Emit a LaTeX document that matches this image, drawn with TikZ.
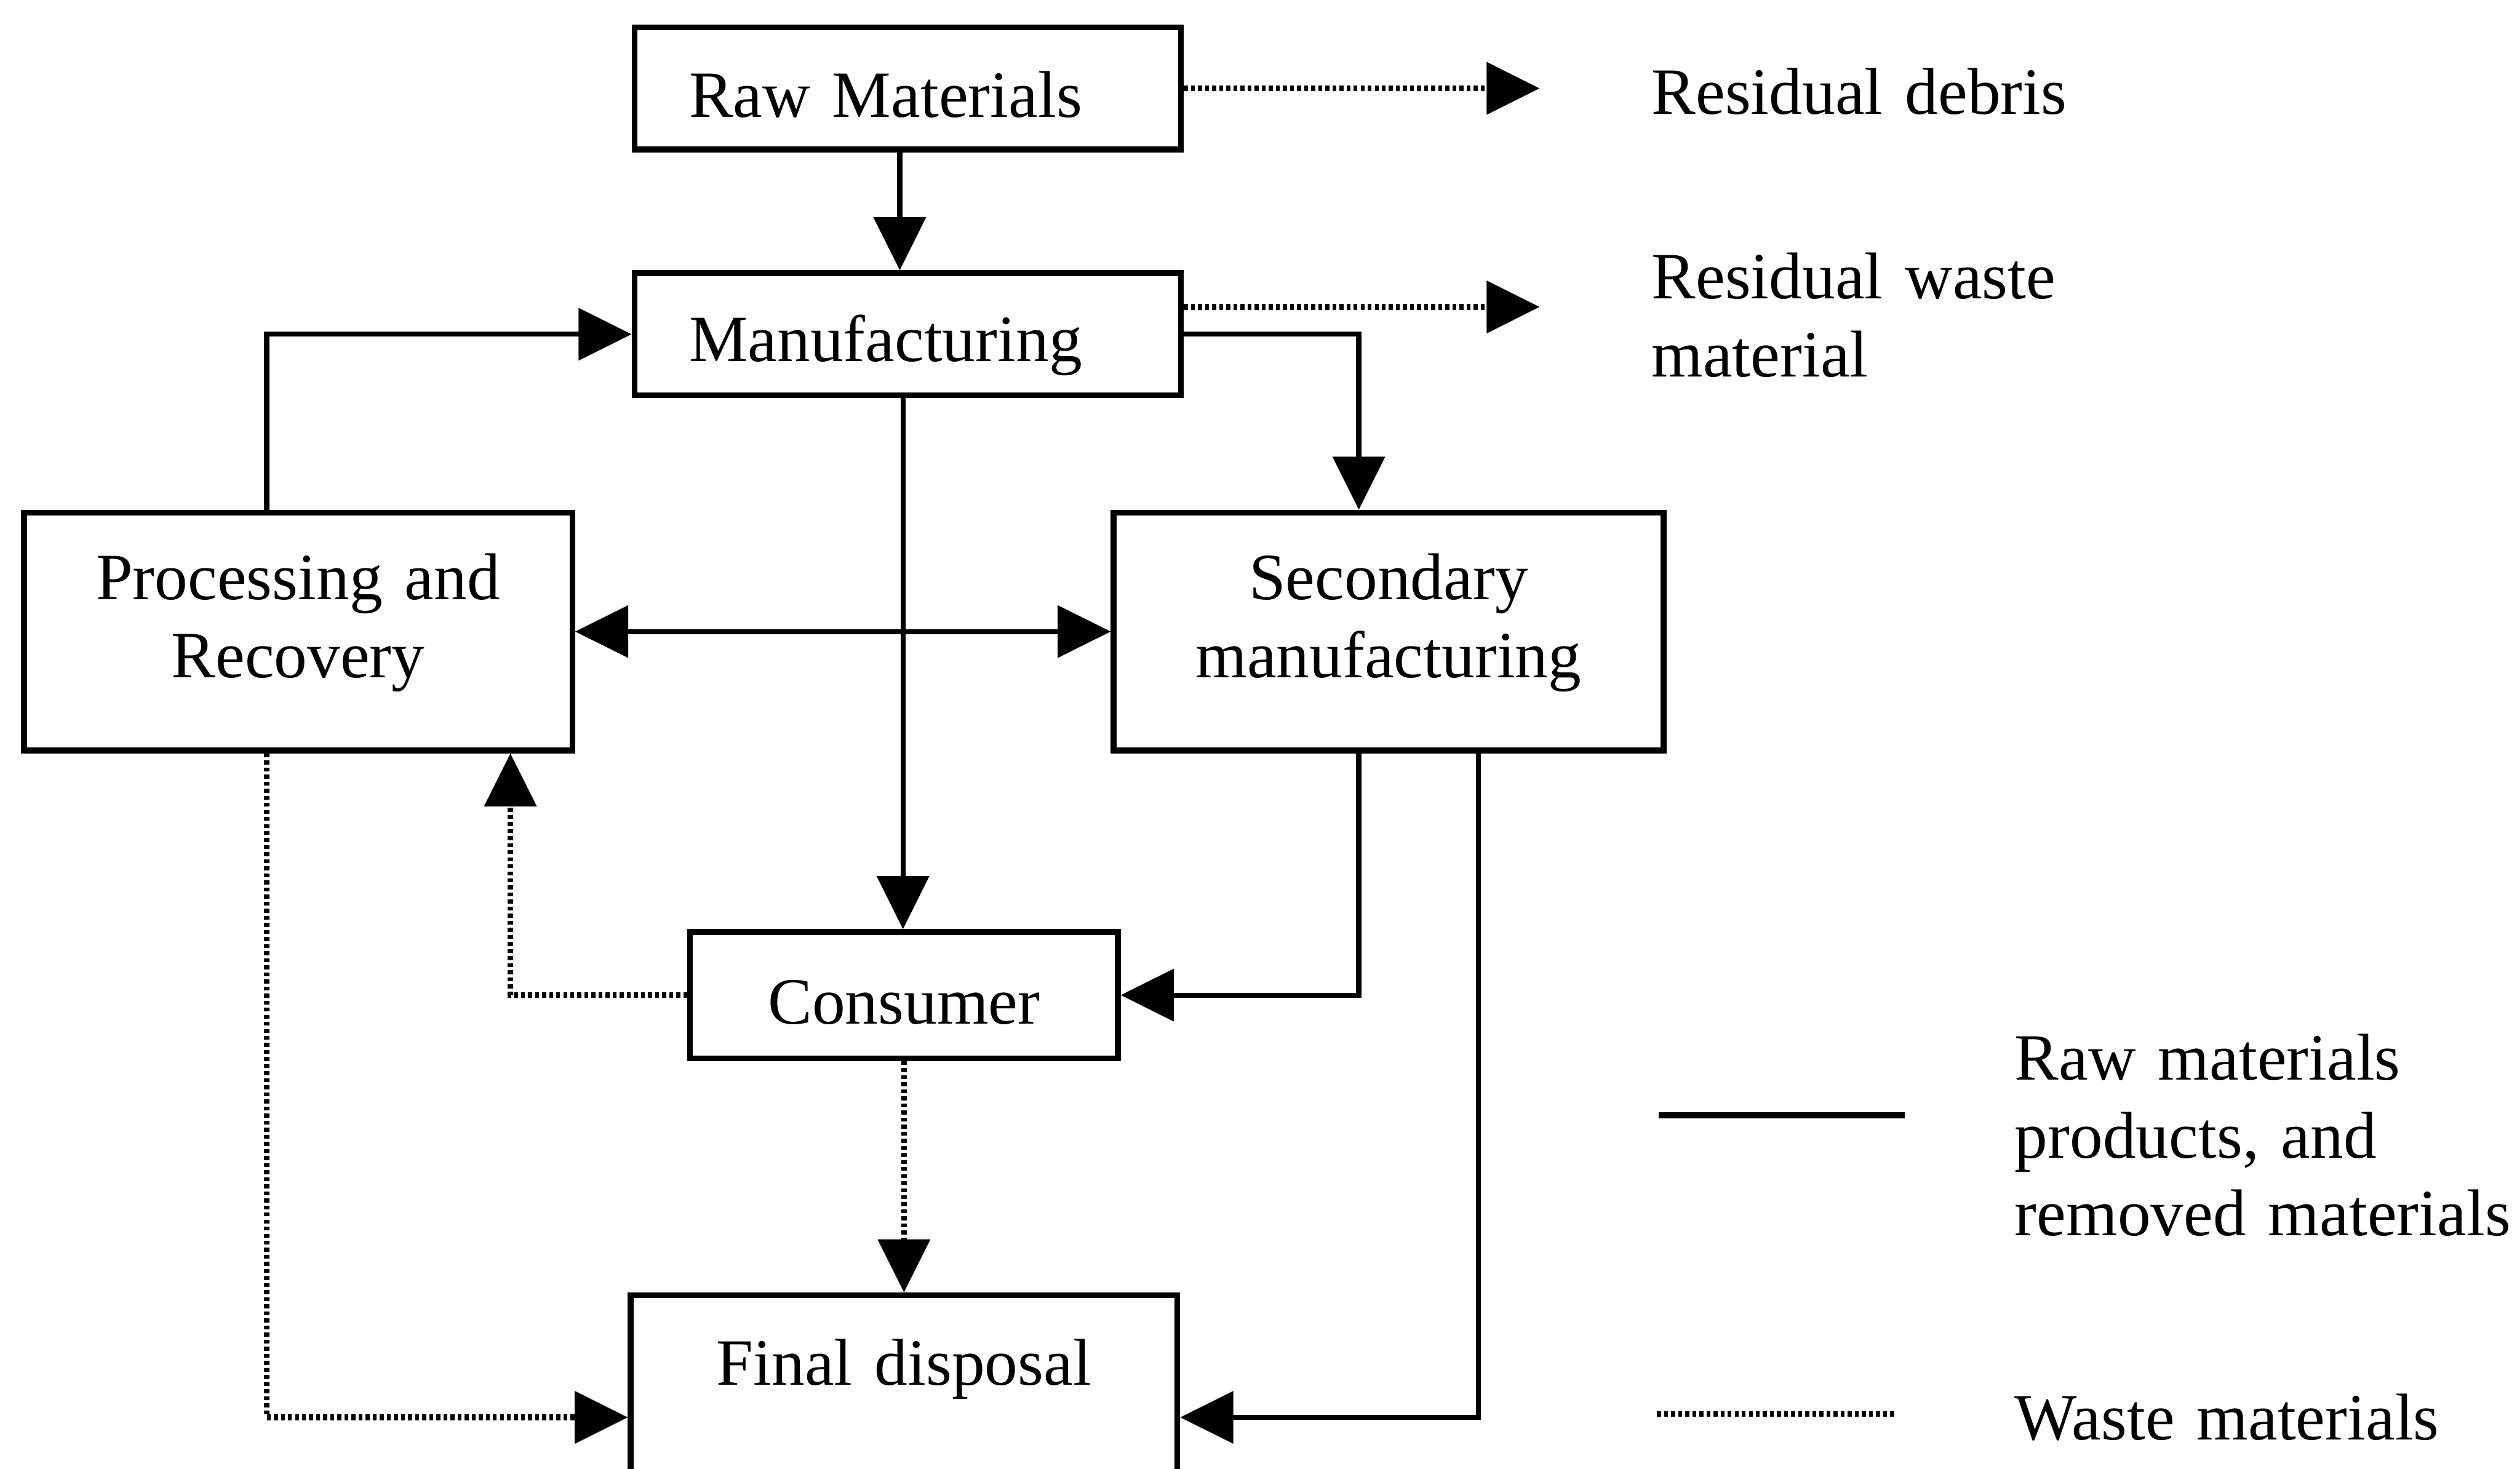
\documentclass[tikz,border=0pt]{standalone}
\usepackage{fontspec}
\setmainfont{Liberation Serif}
\usetikzlibrary{arrows.meta}

\begin{document}
\begin{tikzpicture}[x=0.01cm, y=-0.01cm,
  every node/.style={font=\fontsize{11.7pt}{13.8pt}\selectfont, inner sep=0pt},
  box/.style={draw, line width=1pt},
  tip/.style={-{Triangle[length=0.33cm, width=0.32cm]}},
  flow/.style={line width=0.9pt, tip},
  waste/.style={line width=1pt, dash pattern=on 0.7pt off 0.55pt, tip},
  note/.style={anchor=base west, text width=3.3cm, align=left}
]
\useasboundingbox (0,0) rectangle (1568,914);
\fill[white] (0,0) rectangle (1568,914);
\clip (0,0) rectangle (1568,914);

% process boxes
\node[box, text width=2.72cm, inner xsep=0.34cm, align=left,
      text height=0.56cm, text depth=0.2cm, anchor=base west] (rm) at (393,73) {Raw Materials};
\node[box, text width=2.72cm, inner xsep=0.34cm, align=left,
      text height=0.55cm, text depth=0.21cm, anchor=base west] (mf) at (393,225) {Manufacturing};
\node[box, text width=3.41cm, align=center,
      text height=0.54cm, text depth=0.94cm, anchor=base] (pr) at (185.5,373) {Processing and\\Recovery};
\node[box, text width=3.42cm, align=center,
      text height=0.54cm, text depth=0.94cm, anchor=base] (sm) at (864,373) {Secondary\\manufacturing};
\node[box, text width=2.66cm, align=center,
      text height=0.57cm, text depth=0.215cm, anchor=base] (cs) at (562.5,637) {Consumer};
\node[box, text width=3.4cm, align=center,
      text height=0.56cm, text depth=0.96cm, anchor=base] (fd) at (562.5,862) {Final disposal};

% residual outputs
\coordinate (rdEnd) at (958,55);
\coordinate (rwEnd) at (958,191);
\node[note] (rd) at (1027,71) {Residual debris};
\node[note] (rw) at (1027,186) {Residual waste\\material};

% material flows
\draw[flow] ([xshift=-0.05cm]rm.south) -- ([xshift=-0.05cm]mf.north);
\draw[flow] (mf.east) -| ([xshift=-0.185cm]sm.north);
\draw[flow] ([xshift=-0.195cm]pr.north) |- (mf.west);
\draw[flow] ([xshift=-0.03cm]mf.south) -- ([xshift=-0.03cm]mf.south |- cs.north);
\draw[line width=0.9pt, {Triangle[length=0.33cm, width=0.32cm]}-{Triangle[length=0.33cm, width=0.32cm]}] (pr) -- (sm);
\draw[flow] ([xshift=-0.185cm]sm.south) |- (cs.east);
\draw[flow] ([xshift=0.56cm]sm.south) |- (fd.east);

% waste flows
\draw[waste] (rm.east) -- (rm.east -| rdEnd);
\draw[waste] (mf.east |- rwEnd) -- (rwEnd);
\draw[waste] (cs.west) -| ([xshift=1.32cm]pr.south);
\draw[waste] ([xshift=-0.195cm]pr.south) |- (fd.west);
\draw[waste] (cs) -- (fd);

% legend
\coordinate (ls1) at (1032,694);
\coordinate (le1) at (1185,694);
\coordinate (ls2) at (1031,880);
\coordinate (le2) at (1180,880);
\draw[line width=1.1pt] (ls1) -- (le1);
\draw[line width=1pt, dash pattern=on 0.7pt off 0.55pt] (ls2) -- (le2);
\node[note] (lg1) at (1253,672) {Raw materials\\products, and\\removed materials};
\node[note] (lg2) at (1253,896) {Waste materials};
\end{tikzpicture}
\end{document}
